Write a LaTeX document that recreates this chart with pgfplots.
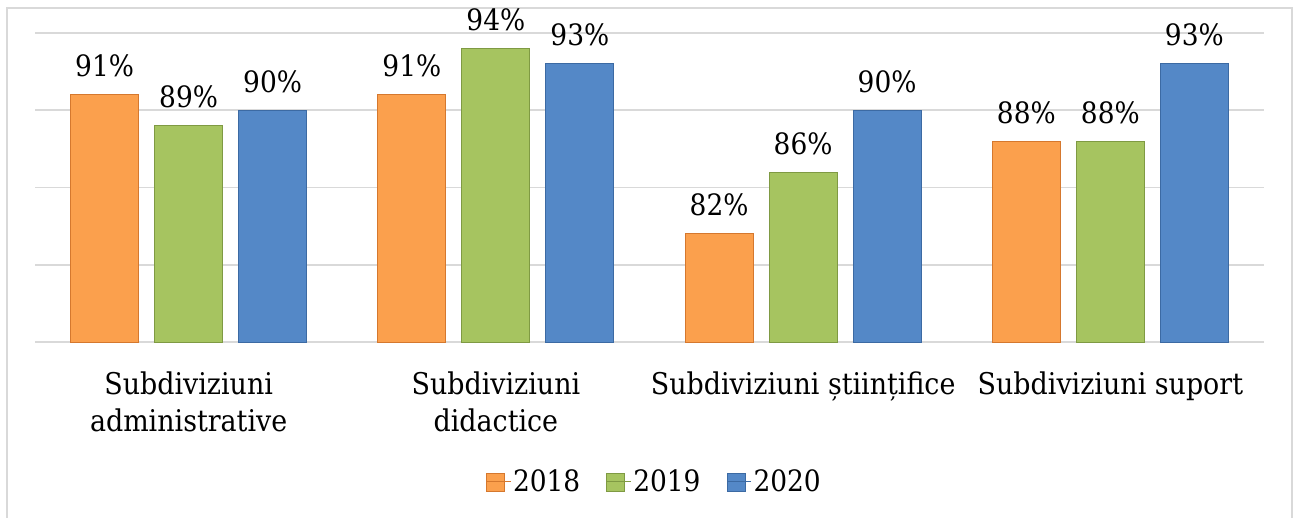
\documentclass[border=0pt]{standalone}
\usepackage{pgfplots}
\pgfplotsset{compat=1.18}
\usepackage{fontspec}
\setmainfont{DejaVu Serif Condensed}
\definecolor{cOr}{HTML}{FBA04D}
\definecolor{cOrE}{HTML}{D5782E}
\definecolor{cGr}{HTML}{A6C460}
\definecolor{cGrE}{HTML}{7F9A43}
\definecolor{cBl}{HTML}{5488C7}
\definecolor{cBlE}{HTML}{3C6AA3}
\definecolor{gridc}{HTML}{D9D9D9}
\begin{document}
\begin{tikzpicture}
\useasboundingbox (-35bp,-176bp) rectangle (1261bp,342bp);
\draw[gridc, line width=1.5bp] (-28bp,-190bp) rectangle (1257bp,334bp);
\begin{axis}[
  at={(0,0)}, anchor=south west,
  scale only axis, width=1229bp, height=309bp,
  ybar=16bp, bar width=68bp,
  xmin=-0.5, xmax=3.5, ymin=75, ymax=95,
  xtick={0,1,2,3},
  xticklabels={{Subdiviziuni\\administrative},{Subdiviziuni\\didactice},{Subdiviziuni științifice},{Subdiviziuni suport}},
  xticklabel style={align=center, anchor=north, inner sep=0pt, yshift=-25bp, font=\fontsize{30}{37}\selectfont},
  ytick={75,80,85,90,95}, yticklabels={},
  ymajorgrids, major grid style={gridc, line width=1.5bp},
  axis line style={draw=none}, tick style={draw=none},
  /pgf/number format/assume math mode=true,
  nodes near coords={\pgfmathprintnumber{\pgfplotspointmeta}\%},
  every node near coord/.append style={anchor=base, inner sep=0pt, yshift=18bp, font=\fontsize{29.5}{35}\selectfont, text=black},
  legend columns=-1,
  legend style={at={(0.504,-0.45)}, anchor=center, draw=none, fill=none, font=\fontsize{29.5}{35}\selectfont,
    /tikz/every even column/.append style={column sep=24bp}},
  legend image code/.code={\fill[#1] (0bp,-10bp) rectangle (18bp,8bp); \path (0bp,0bp) -- (24bp,0bp);},
]
\addplot[fill=cOr, draw=cOrE, line width=1bp] coordinates {(0,91) (1,91) (2,82) (3,88)};
\addplot[fill=cGr, draw=cGrE, line width=1bp] coordinates {(0,89) (1,94) (2,86) (3,88)};
\addplot[fill=cBl, draw=cBlE, line width=1bp] coordinates {(0,90) (1,93) (2,90) (3,93)};
\legend{2018,2019,2020}
\end{axis}
\end{tikzpicture}
\end{document}
